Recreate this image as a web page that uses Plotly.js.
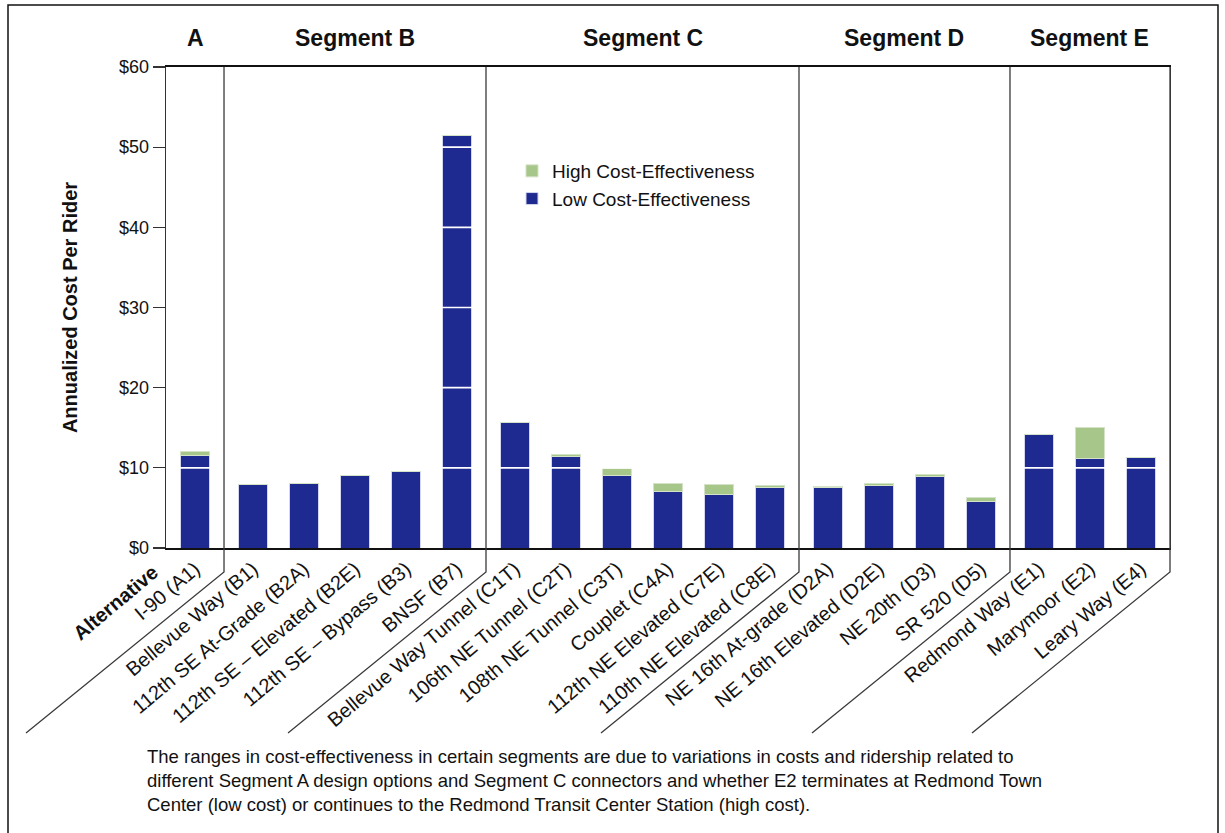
<!DOCTYPE html>
<html>
<head>
<meta charset="utf-8">
<script src="https://cdn.plot.ly/plotly-3.0.1.min.js"></script>
<style>
  html, body { margin: 0; padding: 0; background: #ffffff; }
  #chart { width: 1225px; height: 833px; }
</style>
</head>
<body>
<div id="chart"></div>
<script>
// ---------------- DATA ----------------
const categories = [
  'I-90 (A1)',
  'Bellevue Way (B1)',
  '112th SE At-Grade (B2A)',
  '112th SE – Elevated (B2E)',
  '112th SE – Bypass (B3)',
  'BNSF (B7)',
  'Bellevue Way Tunnel (C1T)',
  '106th NE Tunnel (C2T)',
  '108th NE Tunnel (C3T)',
  'Couplet (C4A)',
  '112th NE Elevated (C7E)',
  '110th NE Elevated (C8E)',
  'NE 16th At-grade (D2A)',
  'NE 16th Elevated (D2E)',
  'NE 20th (D3)',
  'SR 520 (D5)',
  'Redmond Way (E1)',
  'Marymoor (E2)',
  'Leary Way (E4)'
];
const segmentOfCategory = ['A','B','B','B','B','B','C','C','C','C','C','C','D','D','D','D','E','E','E'];
const segmentNames = ['A','B','C','D','E'];
const segmentTitles = ['A','Segment B','Segment C','Segment D','Segment E'];
// Low cost-effectiveness (bottom, blue) values
const lowCostEffectiveness = [11.5, 7.9, 8.1, 9.0, 9.5, 51.4, 15.6, 11.4, 9.1, 7.0, 6.7, 7.5, 7.6, 7.85, 8.95, 5.8, 14.1, 11.2, 11.3];
// High cost-effectiveness (extra range on top, green)
const highCostEffectiveness = [0.5, 0, 0, 0, 0, 0, 0, 0.3, 0.8, 1.0, 1.25, 0.25, 0.05, 0.25, 0.25, 0.45, 0, 3.85, 0];
const yTickValues = [0, 10, 20, 30, 40, 50, 60];
const yTickLabels = ['$0', '$10', '$20', '$30', '$40', '$50', '$60'];
const seriesNames = ['Low Cost-Effectiveness', 'High Cost-Effectiveness'];
const footnote = 'The ranges in cost-effectiveness in certain segments are due to variations in costs and ridership related to<br>' +
  'different Segment A design options and Segment C connectors and whether E2 terminates at Redmond Town<br>' +
  'Center (low cost) or continues to the Redmond Transit Center Station (high cost).';

// ---------------- LAYOUT HELPERS ----------------
const FONT = '"Liberation Sans", Arial, Helvetica, sans-serif';
const BLUE = '#1f2a91';
const GREEN = '#a7c68a';
const W = 1225, H = 833;
const M = {l: 166, r: 55, t: 67, b: 285};
const PW = W - M.l - M.r;   // plot width px
const PH = H - M.t - M.b;   // plot height px
const SEG_GAP = 0.137;      // extra gap between segments (category units)
const EDGE = 0.569;         // half gap at segment borders

const segIdx = segmentOfCategory.map(s => segmentNames.indexOf(s));
const xPos = categories.map((c, i) => i + SEG_GAP * segIdx[i]);
const xMin = xPos[0] - EDGE;
const xMax = xPos[xPos.length - 1] + EDGE;
const toPaperX = x => (x - xMin) / (xMax - xMin);
const pxToPaperY = py => (M.t + PH - py) / PH;
const pxToPaperX = px => (px - M.l) / PW;

const traces = [
  {
    type: 'bar', name: seriesNames[0], x: xPos, y: lowCostEffectiveness,
    width: 0.57, marker: {color: BLUE, line: {color: '#d4d6ee', width: 1}},
    hoverinfo: 'skip'
  },
  {
    type: 'bar', name: seriesNames[1], x: xPos, y: highCostEffectiveness,
    width: 0.57, marker: {color: GREEN, line: {color: '#d4e3c8', width: 1}},
    hoverinfo: 'skip'
  }
];

const shapes = [];
// white gridlines drawn over the bars
yTickValues.slice(1, -1).forEach(v => {
  shapes.push({type: 'line', xref: 'paper', yref: 'y', x0: 0.003, x1: 0.997, y0: v, y1: v,
    line: {color: '#ffffff', width: 1.6}, layer: 'above'});
});
// segment dividers with diagonal leaders
const vBottom = pxToPaperY(572);
const dBottom = pxToPaperY(733);
const dDx = -198 / PW;
const dividerX = [];
for (let i = 1; i < categories.length; i++) {
  if (segIdx[i] !== segIdx[i - 1]) dividerX.push(toPaperX((xPos[i] + xPos[i - 1]) / 2));
}
dividerX.push(1);
dividerX.forEach(px => {
  shapes.push({type: 'path', xref: 'paper', yref: 'paper',
    path: `M ${px},1 L ${px},${vBottom} L ${px + dDx},${dBottom}`,
    line: {color: '#3a3a3a', width: 1.3}, layer: 'above'});
});
// outer frame of the figure
shapes.push({type: 'rect', xref: 'paper', yref: 'paper',
  x0: pxToPaperX(8), x1: pxToPaperX(1218), y0: pxToPaperY(845), y1: pxToPaperY(5),
  line: {color: '#111111', width: 1.5}, layer: 'above'});

const annotations = [];
segmentNames.forEach((s, k) => {
  const xs = xPos.filter((x, i) => segIdx[i] === k);
  const cx = (xs[0] + xs[xs.length - 1]) / 2;
  annotations.push({xref: 'x', yref: 'paper', x: cx, y: pxToPaperY(38), text: '<b>' + segmentTitles[k] + '</b>',
    showarrow: false, xanchor: 'center', yanchor: 'middle', font: {size: 23, color: '#111', family: FONT}});
});
annotations.push({xref: 'paper', yref: 'paper', x: pxToPaperX(115), y: pxToPaperY(603),
  text: '<b>Alternative</b>', textangle: -40, showarrow: false, xanchor: 'center', yanchor: 'middle',
  font: {size: 20, color: '#111', family: FONT}});
annotations.push({xref: 'paper', yref: 'paper', x: pxToPaperX(145), y: pxToPaperY(744),
  text: footnote, align: 'left', showarrow: false, xanchor: 'left', yanchor: 'top',
  font: {size: 18.5, color: '#111', family: FONT}});

const layout = {
  width: W, height: H,
  margin: M,
  paper_bgcolor: '#ffffff', plot_bgcolor: '#ffffff',
  barmode: 'stack',
  font: {family: FONT, color: '#111'},
  showlegend: true,
  legend: {x: pxToPaperX(512), y: pxToPaperY(152), xanchor: 'left', yanchor: 'top',
    traceorder: 'reversed', font: {size: 19, family: FONT, color: '#111'},
    bgcolor: 'rgba(0,0,0,0)'},
  xaxis: {
    range: [xMin, xMax], tickvals: xPos, ticktext: categories, tickangle: -40,
    showgrid: false, zeroline: false, showline: true, linecolor: '#111', linewidth: 1.6,
    mirror: true, ticks: '', tickfont: {size: 20, family: FONT, color: '#111'}, fixedrange: true
  },
  yaxis: {
    range: [0, 60], tickvals: yTickValues, ticktext: yTickLabels,
    showgrid: false, zeroline: false, showline: true, linecolor: '#333', linewidth: 1.3,
    mirror: true, ticks: 'outside', ticklen: 12, tickcolor: '#333', tickwidth: 1.3,
    tickfont: {size: 18, family: FONT, color: '#111'},
    title: {text: '<b>Annualized Cost Per Rider</b>', font: {size: 20, family: FONT, color: '#111'}, standoff: 36},
    fixedrange: true
  },
  shapes: shapes,
  annotations: annotations
};

Plotly.newPlot('chart', traces, layout, {displayModeBar: false, staticPlot: true});
</script>
</body>
</html>
